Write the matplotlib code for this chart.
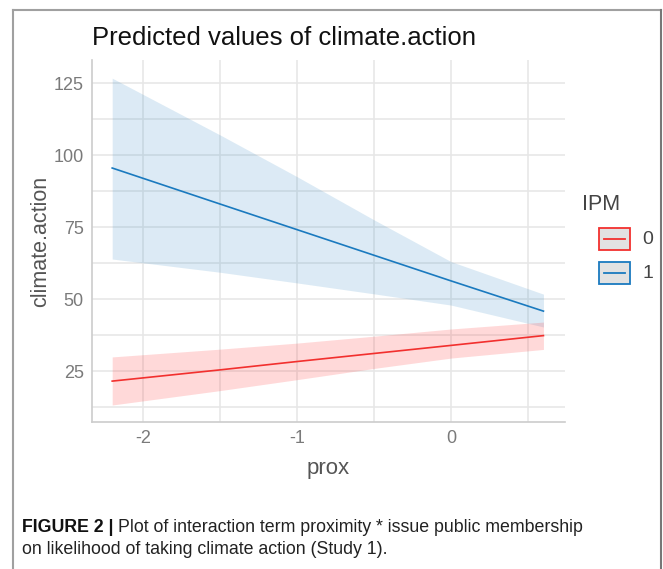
import matplotlib
matplotlib.use("Agg")
import matplotlib.pyplot as plt
from matplotlib.lines import Line2D
from matplotlib.patches import Rectangle

plt.rcParams['font.family'] = ['Liberation Sans', 'DejaVu Sans']
plt.rcParams['axes.unicode_minus'] = False

# datos
prox = [-2.2, -1.5, -1.0, -0.5, 0.0, 0.6]
ipm0_fit = [21.5, 25.4, 28.3, 31.1, 33.9, 37.3]
ipm0_low = [13.2, 18.2, 22.0, 25.9, 29.5, 32.5]
ipm0_high = [29.9, 32.6, 34.7, 37.1, 39.6, 42.0]
ipm1_fit = [95.5, 83.0, 74.1, 65.2, 56.3, 45.8]
ipm1_low = [63.9, 59.3, 55.6, 51.8, 47.9, 40.3]
ipm1_high = [126.7, 107.0, 92.5, 77.5, 63.0, 51.7]

x_ticks = [-2, -1, 0]
y_ticks = [25, 50, 75, 100, 125]
y_minor = [12.5, 37.5, 62.5, 87.5, 112.5]
x_minor = [-1.5, -0.5, 0.5]

rojo = '#F2302E'
azul = '#1A7ABF'

fig = plt.figure(figsize=(6.63, 5.69), dpi=100)
ax = fig.add_axes([0.1388, 0.2583, 0.7134, 0.6362])

ax.fill_between(prox, ipm1_low, ipm1_high, color='#3F8FC8', alpha=0.18, linewidth=0)
ax.fill_between(prox, ipm0_low, ipm0_high, color='#FF3030', alpha=0.18, linewidth=0)
ax.plot(prox, ipm0_fit, color=rojo, lw=1.2, label='0')
ax.plot(prox, ipm1_fit, color=azul, lw=1.2, label='1')

ax.set_xlim(-2.331, 0.740)
ax.set_ylim(7.29, 133.0)
ax.set_xticks(x_ticks)
ax.set_xticks(x_minor, minor=True)
ax.set_yticks(y_ticks)
ax.set_yticks(y_minor, minor=True)
ax.grid(True, which='major', color='#E6E6E6', lw=1.1)
ax.grid(True, which='minor', color='#E6E6E6', lw=1.1)
ax.set_axisbelow(True)
ax.tick_params(which='both', length=0, colors='#7A7A7A', labelsize=13, pad=6)
for lado in ['top', 'right']:
    ax.spines[lado].set_visible(False)
for lado in ['left', 'bottom']:
    ax.spines[lado].set_color('#CCCCCC')
    ax.spines[lado].set_linewidth(1.2)

ax.set_xlabel('prox', fontsize=16, color='#555555', labelpad=8)
ax.set_ylabel('climate.action', fontsize=15.5, color='#555555', labelpad=2)
fig.text(92 / 663, 1 - 38 / 569, 'Predicted values of climate.action', fontsize=18.5,
         color='#111111', va='center', ha='left')

# leyenda dibujada a mano
fig.text(601 / 663, 1 - 205 / 569, 'IPM', fontsize=15.5, color='#444444', va='center', ha='center')
claves = [('0', rojo, 239), ('1', azul, 273)]
for etiqueta, color, yc in claves:
    caja = Rectangle((599 / 663, 1 - (yc + 11) / 569), 31 / 663, 22 / 569,
                     transform=fig.transFigure, facecolor='#E2E2E2', edgecolor=color, lw=1.3)
    fig.patches.append(caja)
    fig.lines.append(Line2D([604 / 663, 625 / 663], [1 - yc / 569, 1 - yc / 569],
                            transform=fig.transFigure, color=color, lw=1.3))
    fig.text(642 / 663, 1 - yc / 569, etiqueta, fontsize=14, color='#444444', va='center')

# marco gris
borde = '#A0A0A0'
fig.lines.append(Line2D([13 / 663, 13 / 663], [0, 1 - 10 / 569], transform=fig.transFigure, color=borde, lw=1.5))
fig.lines.append(Line2D([13 / 663, 661 / 663], [1 - 10 / 569, 1 - 10 / 569], transform=fig.transFigure, color=borde, lw=1.5))
fig.lines.append(Line2D([661 / 663, 661 / 663], [0, 1 - 10 / 569], transform=fig.transFigure, color='#777777', lw=1.5))

# pie de figura
t1 = fig.text(22 / 663, 1 - 527 / 569, 'FIGURE 2 |', fontsize=12.8, fontweight='bold',
              color='#111111', va='center')
fig.canvas.draw()
ext = t1.get_window_extent(fig.canvas.get_renderer())
fig.text(ext.x1 / 663 + 4 / 663, 1 - 527 / 569,
         'Plot of interaction term proximity * issue public membership',
         fontsize=12.8, color='#222222', va='center')
fig.text(22 / 663, 1 - 550 / 569, 'on likelihood of taking climate action (Study 1).',
         fontsize=12.8, color='#222222', va='center')

fig.savefig('out.png', dpi=100)
